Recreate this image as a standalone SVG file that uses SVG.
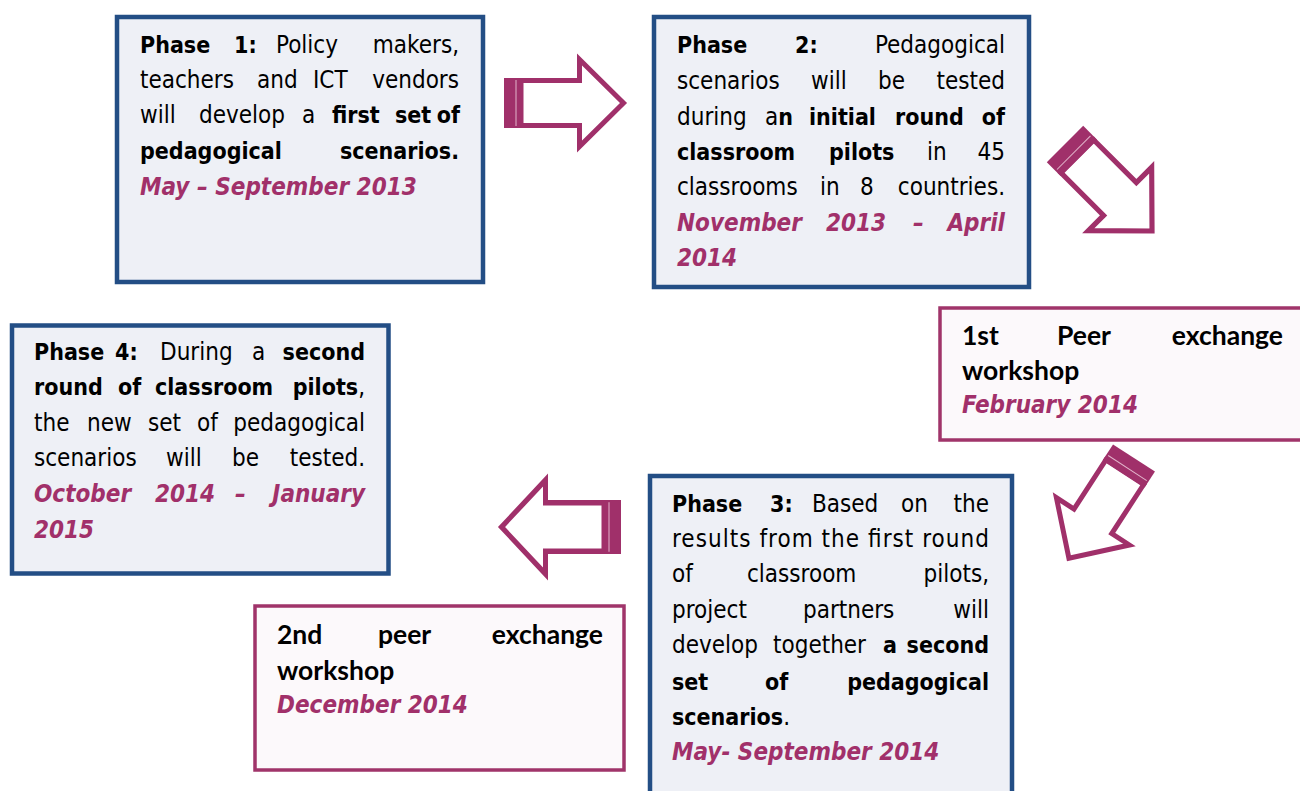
<svg xmlns="http://www.w3.org/2000/svg" width="1300" height="791" viewBox="0 0 1300 791">
<defs>
<style>
.t{font-family:'DejaVu Sans Condensed','DejaVu Sans',sans-serif;font-size:24px;fill:#000}
.b{font-weight:bold;font-size:23px}
.d{font-style:italic;font-weight:bold;fill:#A1306A;font-size:24px}
.w{font-family:Lato,'Noto Sans',sans-serif;font-weight:bold;font-size:26.5px;fill:#000}
.e{text-anchor:end}
.pb{fill:#EEF0F6;stroke:#234E85;stroke-width:4.5}
.wb{fill:#FCF9FB;stroke:#A0346A;stroke-width:3.5}
.ar{fill:#fff;stroke:#A0306A;stroke-width:5;stroke-linejoin:miter}
</style>
<g id="arrowShape">
<path class="ar" d="M17,-22.5 H75.5 V-43.5 L119.5,0 L75.5,43.5 V22.5 H17 Z"/>
<rect x="0" y="-25" width="19" height="50" fill="#A0306A"/>
<line x1="12" y1="-23" x2="12" y2="23" stroke="#E2B4CB" stroke-width="1"/>
</g>
</defs>
<rect width="1300" height="791" fill="#fff"/>

<g id="phase1">
<rect class="pb" x="117" y="17" width="366" height="265"/>
<text class="t" y="53"><tspan class="b" x="140">Phase</tspan><tspan class="b" x="234">1:</tspan><tspan x="276">Policy</tspan></text>
<text class="t e" x="459" y="53">makers,</text>
<text class="t" y="88"><tspan x="140">teachers</tspan><tspan x="257">and</tspan><tspan x="313">ICT</tspan></text>
<text class="t e" x="459" y="88">vendors</text>
<text class="t" y="123"><tspan x="140">will</tspan><tspan x="199">develop</tspan><tspan x="302">a</tspan><tspan class="b" x="332">first</tspan><tspan class="b" x="395">set</tspan></text>
<text class="t b e" x="460" y="123">of</text>
<text class="t b" x="140" y="159">pedagogical</text>
<text class="t b e" x="459" y="159">scenarios.</text>
<text class="t d" x="140" y="195">May – September 2013</text>
</g>

<g id="phase2">
<rect class="pb" x="654" y="17" width="375" height="270"/>
<text class="t b" y="53"><tspan x="677">Phase</tspan><tspan x="795">2:</tspan></text>
<text class="t e" x="1005" y="53">Pedagogical</text>
<text class="t" y="89"><tspan x="677">scenarios</tspan><tspan x="811">will</tspan><tspan x="878">be</tspan></text>
<text class="t e" x="1005" y="89">tested</text>
<text class="t" y="125"><tspan x="677">during</tspan><tspan x="765">a</tspan><tspan class="b">n</tspan><tspan class="b" x="809">initial</tspan><tspan class="b" x="895">round</tspan></text>
<text class="t b e" x="1005" y="125">of</text>
<text class="t" y="160"><tspan class="b" x="677">classroom</tspan><tspan class="b" x="829">pilots</tspan><tspan x="927">in</tspan></text>
<text class="t e" x="1005" y="160">45</text>
<text class="t" y="195"><tspan x="677">classrooms</tspan><tspan x="820">in</tspan><tspan x="860">8</tspan></text>
<text class="t e" x="1005" y="195">countries.</text>
<text class="t d" y="231"><tspan x="677">November</tspan><tspan x="826">2013</tspan><tspan x="913">–</tspan></text>
<text class="t d e" x="1005" y="231">April</text>
<text class="t d" x="677" y="266">2014</text>
</g>

<g id="workshop1">
<rect class="wb" x="940" y="308" width="400" height="132"/>
<text class="w" y="345"><tspan x="962">1st</tspan><tspan x="1057">Peer</tspan></text>
<text class="w e" x="1283" y="345">exchange</text>
<text class="w" x="962" y="380">workshop</text>
<text class="t d" x="962" y="413">February 2014</text>
</g>

<g id="phase3">
<rect class="pb" x="650" y="476" width="362" height="340"/>
<text class="t" y="512"><tspan class="b" x="672">Phase</tspan><tspan class="b" x="770">3:</tspan><tspan x="812">Based</tspan><tspan x="901">on</tspan></text>
<text class="t e" x="989" y="512">the</text>
<text class="t" x="672" y="547" textLength="317" lengthAdjust="spacing">results from the first round</text>
<text class="t" y="582"><tspan x="672">of</tspan><tspan x="747">classroom</tspan></text>
<text class="t e" x="989" y="582">pilots,</text>
<text class="t" y="618"><tspan x="672">project</tspan><tspan x="803">partners</tspan></text>
<text class="t e" x="989" y="618">will</text>
<text class="t" y="653"><tspan x="672">develop</tspan><tspan x="773">together</tspan><tspan class="b" x="883">a</tspan></text>
<text class="t b e" x="989" y="653">second</text>
<text class="t b" y="690"><tspan x="672">set</tspan><tspan x="765">of</tspan></text>
<text class="t b e" x="989" y="690">pedagogical</text>
<text class="t" x="672" y="725"><tspan class="b">scenarios</tspan>.</text>
<text class="t d" x="672" y="760">May- September 2014</text>
</g>

<g id="phase4">
<rect class="pb" x="12" y="325.5" width="376.5" height="248"/>
<text class="t" y="360"><tspan class="b" x="34">Phase</tspan><tspan class="b" x="115">4:</tspan><tspan x="160">During</tspan><tspan x="252">a</tspan></text>
<text class="t b e" x="365" y="360">second</text>
<text class="t b" y="395"><tspan x="34">round</tspan><tspan x="118">of</tspan><tspan x="155">classroom</tspan></text>
<text class="t e" x="365" y="395"><tspan class="b">pilots</tspan>,</text>
<text class="t" y="431"><tspan x="34">the</tspan><tspan x="87">new</tspan><tspan x="148">set</tspan><tspan x="197">of</tspan></text>
<text class="t e" x="365" y="431">pedagogical</text>
<text class="t" y="466"><tspan x="34">scenarios</tspan><tspan x="166">will</tspan><tspan x="232">be</tspan></text>
<text class="t e" x="365" y="466">tested.</text>
<text class="t d" y="502"><tspan x="34">October</tspan><tspan x="155">2014</tspan><tspan x="235">–</tspan></text>
<text class="t d e" x="365" y="502">January</text>
<text class="t d" x="34" y="538">2015</text>
</g>

<g id="workshop2">
<rect class="wb" x="255" y="606" width="369" height="164"/>
<text class="w" y="644"><tspan x="277">2nd</tspan><tspan x="378">peer</tspan></text>
<text class="w e" x="603" y="644">exchange</text>
<text class="w" x="277" y="680">workshop</text>
<text class="t d" x="277" y="713">December 2014</text>
</g>

<g id="connectors">
<use href="#arrowShape" transform="translate(504,103)"/>
<use href="#arrowShape" transform="translate(1065,144) rotate(45) scale(1.03)"/>
<use href="#arrowShape" transform="translate(1134,458) rotate(123)"/>
<use href="#arrowShape" transform="translate(621,527) scale(-1,1.08)"/>
</g>
</svg>
